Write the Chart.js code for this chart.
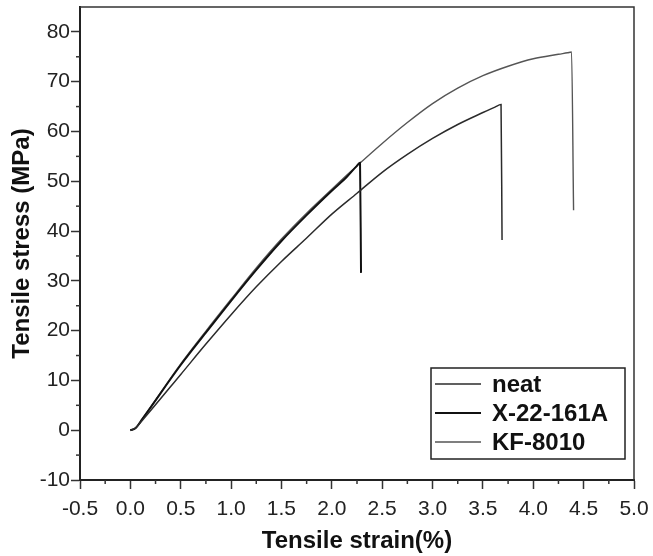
<!DOCTYPE html>
<html>
<head>
<meta charset="utf-8">
<script src="https://cdn.jsdelivr.net/npm/chart.js@4"></script>
<style>
    body { margin: 0; background: #fff; }
    #box { width: 653px; height: 556px; }
</style>
</head>
<body>
<div id="box"><canvas id="zugkurve"></canvas></div>
<script>
// Werte (Dehnung in %, Spannung in MPa)
const neatStrain = [0, 0.05, 0.12, 0.5, 0.75, 1.0, 1.25, 1.5, 1.75, 2.0, 2.25, 2.5, 2.75, 3.0, 3.25, 3.5, 3.62, 3.68, 3.69];
const neatStress = [0, 0.4, 2.0, 11.2, 17.3, 23.2, 28.8, 33.9, 38.6, 43.4, 47.6, 51.8, 55.4, 58.6, 61.4, 63.8, 64.9, 65.4, 38.2];

const x22Strain = [0, 0.05, 0.12, 0.5, 0.75, 1.0, 1.25, 1.5, 1.75, 2.0, 2.15, 2.24, 2.28, 2.29];
const x22Stress = [0, 0.4, 2.3, 13.1, 19.6, 26.0, 32.2, 38.0, 43.2, 48.1, 50.9, 52.9, 53.7, 31.6];

const kfStrain = [0, 0.05, 0.12, 0.5, 0.75, 1.0, 1.25, 1.5, 1.75, 2.0, 2.25, 2.5, 2.75, 3.0, 3.25, 3.5, 3.75, 4.0, 4.25, 4.34, 4.38, 4.40];
const kfStress = [0, 0.4, 2.3, 13.3, 19.9, 26.3, 32.6, 38.4, 43.6, 48.4, 53.1, 57.6, 61.8, 65.6, 68.7, 71.2, 73.1, 74.6, 75.5, 75.8, 75.95, 44.2];

const labels = ["neat", "X-22-161A", "KF-8010"];

const xMin = -0.5, xMax = 5.0, xStep = 0.25;
const yMin = -10, yMax = 85, yStep = 5;

function punkte(xs, ys) {
    return xs.map((x, i) => ({ x: x, y: ys[i] }));
}

const schrift = "'Liberation Sans', Arial, sans-serif";

function istHaupt(v, step) {
    return Math.round(v / step) % 2 === 0;
}

// kleine Striche, Rahmen oben/rechts und Legende im Plotbereich
const extras = {
    id: "extras",
    afterDraw(chart) {
        const ctx = chart.ctx;
        const a = chart.chartArea;
        const sx = chart.scales.x;
        const sy = chart.scales.y;
        ctx.save();
        ctx.strokeStyle = "#333";
        ctx.lineWidth = 1.5;
        ctx.beginPath();
        ctx.moveTo(a.left, a.top);
        ctx.lineTo(a.right, a.top);
        ctx.lineTo(a.right, a.bottom);
        ctx.stroke();

        ctx.lineWidth = 1.5;
        sx.ticks.forEach((t) => {
            if (istHaupt(t.value, xStep)) return;
            const px = sx.getPixelForValue(t.value);
            ctx.beginPath();
            ctx.moveTo(px, a.bottom);
            ctx.lineTo(px, a.bottom + 4);
            ctx.stroke();
        });
        sy.ticks.forEach((t) => {
            if (istHaupt(t.value, yStep) || t.value >= yMax) return;
            const py = sy.getPixelForValue(t.value);
            ctx.beginPath();
            ctx.moveTo(a.left, py);
            ctx.lineTo(a.left - 4, py);
            ctx.stroke();
        });

        // Legende
        const lx = 431, ly = 368, lw = 194, lh = 91;
        ctx.fillStyle = "#fff";
        ctx.fillRect(lx, ly, lw, lh);
        ctx.strokeStyle = "#222";
        ctx.lineWidth = 1.5;
        ctx.strokeRect(lx, ly, lw, lh);
        ctx.font = "bold 24px " + schrift;
        ctx.textBaseline = "middle";
        chart.data.datasets.forEach((ds, i) => {
            const y = ly + 16 + i * 29;
            ctx.strokeStyle = ds.borderColor;
            ctx.lineWidth = ds.borderWidth;
            ctx.beginPath();
            ctx.moveTo(lx + 4, y);
            ctx.lineTo(lx + 50, y);
            ctx.stroke();
            ctx.fillStyle = "#111";
            ctx.fillText(ds.label, lx + 61, y + 1);
        });
        ctx.restore();
    },
};

new Chart(document.getElementById("zugkurve"), {
    type: "scatter",
    data: {
        datasets: [
            {
                label: labels[0],
                data: punkte(neatStrain, neatStress),
                borderColor: "#2b2b2b",
                borderWidth: 1.5,
            },
            {
                label: labels[1],
                data: punkte(x22Strain, x22Stress),
                borderColor: "#111",
                borderWidth: 2,
            },
            {
                label: labels[2],
                data: punkte(kfStrain, kfStress),
                borderColor: "#555",
                borderWidth: 1.4,
            },
        ],
    },
    options: {
        responsive: true,
        maintainAspectRatio: false,
        animation: false,
        showLine: true,
        elements: {
            point: { radius: 0 },
            line: { cubicInterpolationMode: "monotone", fill: false },
        },
        layout: { padding: { left: 0, right: 19, top: 7, bottom: 0 } },
        plugins: {
            legend: { display: false },
            tooltip: { enabled: false },
        },
        scales: {
            x: {
                type: "linear",
                min: xMin,
                max: xMax,
                afterFit: (s) => {
                    s.height = 76;
                    s.paddingLeft = 0;
                    s.paddingRight = 0;
                },
                border: { color: "#222", width: 2 },
                grid: {
                    drawOnChartArea: false,
                    tickLength: 9,
                    tickWidth: 1.5,
                    tickColor: (c) => (istHaupt(c.tick.value, xStep) ? "#333" : "rgba(0,0,0,0)"),
                },
                ticks: {
                    stepSize: xStep,
                    autoSkip: false,
                    maxRotation: 0,
                    padding: 8,
                    color: "#222",
                    font: { family: schrift, size: 21 },
                    callback: (v) => (istHaupt(v, xStep) ? v.toFixed(1) : ""),
                },
                title: {
                    display: true,
                    text: "Tensile strain(%)",
                    color: "#111",
                    font: { family: schrift, size: 24, weight: "bold" },
                    padding: { top: 0, bottom: 0 },
                },
            },
            y: {
                type: "linear",
                min: yMin,
                max: yMax,
                afterFit: (s) => {
                    s.width = 80;
                    s.paddingTop = 0;
                    s.paddingBottom = 0;
                },
                border: { color: "#222", width: 2 },
                grid: {
                    drawOnChartArea: false,
                    tickLength: 9,
                    tickWidth: 1.5,
                    tickColor: (c) => (istHaupt(c.tick.value, yStep) ? "#333" : "rgba(0,0,0,0)"),
                },
                ticks: {
                    stepSize: yStep,
                    includeBounds: false,
                    autoSkip: false,
                    padding: 1,
                    color: "#222",
                    font: { family: schrift, size: 21 },
                    callback: (v) => (istHaupt(v, yStep) ? String(v) : ""),
                },
                title: {
                    display: true,
                    text: "Tensile stress (MPa)",
                    color: "#111",
                    font: { family: schrift, size: 24, weight: "bold" },
                    padding: { top: 8, bottom: 0 },
                },
            },
        },
    },
    plugins: [extras],
});
</script>
</body>
</html>
